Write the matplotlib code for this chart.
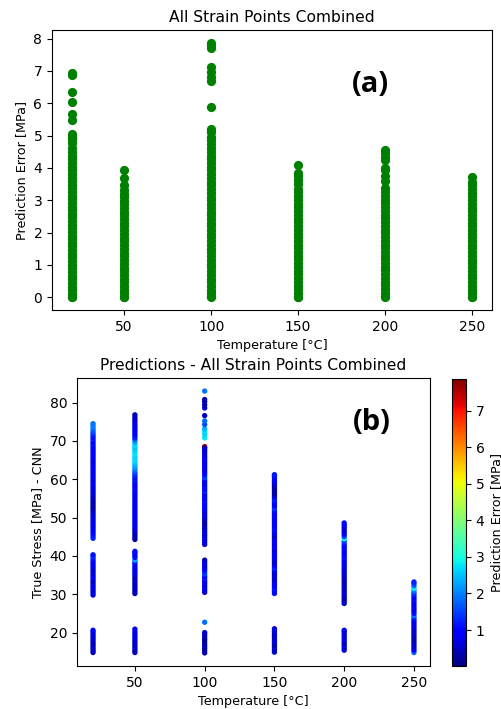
import matplotlib
matplotlib.use("Agg")
import matplotlib.pyplot as plt

# temperatures [°C]
temps = [20, 50, 100, 150, 200, 250]

# (a) prediction error per temperature [MPa]
err_20 = [0.0, 0.02, 0.11, 0.22, 0.33, 0.44, 0.55, 0.67, 0.78, 0.89, 1.0, 1.12, 1.23, 1.34,
          1.45, 1.57, 1.68, 1.79, 1.9, 2.02, 2.13, 2.24, 2.35, 2.47, 2.58, 2.69, 2.8, 2.92,
          3.03, 3.14, 3.25, 3.37, 3.48, 3.59, 3.7, 3.82, 3.93, 4.04, 4.15, 4.27, 4.38, 4.5,
          4.62, 4.78, 4.88, 4.97, 5.05, 5.47, 5.68, 6.03, 6.36, 6.88, 6.92]
err_50 = [0.0, 0.02, 0.12, 0.23, 0.35, 0.46, 0.58, 0.69, 0.81, 0.92, 1.04, 1.15, 1.27, 1.38,
          1.5, 1.61, 1.73, 1.84, 1.96, 2.07, 2.19, 2.3, 2.42, 2.53, 2.65, 2.76, 2.88, 2.99,
          3.1, 3.2, 3.32, 3.46, 3.7, 3.95]
err_100 = [0.0, 0.03, 0.12, 0.24, 0.35, 0.47, 0.58, 0.7, 0.81, 0.93, 1.04, 1.16, 1.27, 1.39,
           1.5, 1.62, 1.73, 1.85, 1.96, 2.08, 2.19, 2.31, 2.42, 2.54, 2.65, 2.77, 2.88, 3.0,
           3.11, 3.23, 3.34, 3.46, 3.57, 3.69, 3.8, 3.92, 4.03, 4.15, 4.26, 4.38, 4.5, 4.62,
           4.74, 4.85, 4.96, 5.12, 5.2, 5.88, 6.68, 6.82, 6.98, 7.12, 7.7, 7.8, 7.87]
err_150 = [0.0, 0.02, 0.13, 0.25, 0.36, 0.48, 0.59, 0.71, 0.82, 0.94, 1.05, 1.17, 1.28, 1.4,
           1.51, 1.63, 1.74, 1.86, 1.97, 2.09, 2.2, 2.32, 2.43, 2.55, 2.66, 2.78, 2.89, 3.01,
           3.12, 3.24, 3.36, 3.5, 3.62, 3.75, 3.85, 4.1]
err_200 = [0.0, 0.03, 0.14, 0.25, 0.37, 0.48, 0.6, 0.71, 0.83, 0.94, 1.06, 1.17, 1.29, 1.4,
           1.52, 1.63, 1.75, 1.86, 1.98, 2.09, 2.21, 2.32, 2.44, 2.55, 2.67, 2.78, 2.9, 3.01,
           3.12, 3.25, 3.38, 3.58, 3.75, 3.92, 4.0, 4.25, 4.35, 4.45, 4.55]
err_250 = [0.0, 0.02, 0.13, 0.24, 0.36, 0.47, 0.59, 0.7, 0.82, 0.93, 1.05, 1.16, 1.28, 1.39,
           1.51, 1.62, 1.74, 1.85, 1.97, 2.08, 2.2, 2.31, 2.43, 2.54, 2.66, 2.77, 2.89, 3.0,
           3.12, 3.23, 3.35, 3.46, 3.55, 3.73]

# (b) (predicted true stress [MPa], prediction error [MPa]) per temperature
pts_20 = [(14.8, 0.3), (15.3, 0.5), (15.9, 0.4), (16.5, 0.6), (17.1, 0.3), (17.7, 0.5),
          (18.3, 0.7), (18.9, 0.5), (19.5, 0.8), (20.1, 0.6), (20.6, 0.9),
          (29.8, 0.6), (30.4, 0.8), (31.0, 0.5), (31.6, 0.9), (32.2, 0.7), (32.8, 0.8),
          (33.4, 0.5), (34.0, 0.7), (34.6, 0.9), (35.2, 0.6), (35.8, 0.8), (36.4, 0.5),
          (37.0, 0.7), (37.6, 0.9), (38.2, 0.8), (38.8, 1.0), (39.4, 1.2), (40.0, 1.4),
          (40.3, 1.1),
          (44.6, 1.3), (45.2, 1.2), (45.8, 1.1), (46.4, 1.0), (47.0, 0.9), (47.6, 0.8),
          (48.2, 0.8), (48.8, 0.9), (49.4, 0.7), (50.0, 0.8), (50.6, 0.6), (51.2, 0.7),
          (51.8, 0.5), (52.4, 0.4), (53.0, 0.3), (53.6, 0.4), (54.2, 0.3), (54.8, 0.5),
          (55.4, 0.4), (56.0, 0.6), (56.6, 0.7), (57.2, 0.6), (57.8, 0.8), (58.4, 0.7),
          (59.0, 0.9), (59.6, 0.8), (60.2, 0.7), (60.8, 0.9), (61.4, 0.8), (62.0, 0.7),
          (62.6, 0.9), (63.2, 0.8), (63.8, 0.9), (64.4, 0.8), (65.0, 0.7), (65.6, 0.9),
          (66.2, 0.9), (66.8, 1.0), (67.4, 0.8), (68.0, 0.9), (68.6, 1.0), (69.2, 1.1),
          (69.8, 1.0), (70.4, 1.2), (71.0, 1.1), (71.6, 1.3), (72.2, 1.5), (72.8, 1.7),
          (73.4, 1.9), (74.0, 2.0), (74.5, 1.9)]
pts_50 = [(14.8, 0.5), (15.4, 0.3), (16.0, 0.6), (16.6, 0.4), (17.2, 0.7), (17.8, 0.5),
          (18.4, 0.8), (19.0, 0.6), (19.6, 0.9), (20.2, 0.7), (20.9, 1.0),
          (30.2, 0.3), (30.8, 0.5), (31.4, 0.4), (32.0, 0.6), (32.6, 0.3), (33.2, 0.5),
          (33.8, 0.7), (34.4, 0.4), (35.0, 0.6), (35.6, 0.8), (36.2, 0.7), (36.8, 0.9),
          (37.4, 1.0), (38.0, 0.9), (38.6, 1.3), (39.0, 2.3), (39.6, 1.1), (40.2, 0.9),
          (40.8, 1.0), (41.2, 1.1),
          (44.3, 0.3), (44.9, 0.4), (45.5, 0.3), (46.1, 0.5), (46.7, 0.6), (47.3, 0.8),
          (47.9, 0.9), (48.5, 0.7), (49.1, 0.8), (49.7, 0.9), (50.3, 0.9), (50.9, 0.8),
          (51.5, 0.9), (52.1, 1.0), (52.7, 0.8), (53.3, 0.9), (53.9, 0.8), (54.5, 1.0),
          (55.1, 0.9), (55.7, 0.8), (56.3, 1.0), (56.9, 0.9), (57.5, 1.1), (58.1, 1.0),
          (58.7, 0.9), (59.3, 1.1), (59.9, 1.2), (60.5, 1.1), (61.1, 1.3), (61.7, 1.5),
          (62.3, 1.8), (62.9, 2.1), (63.5, 2.3), (64.1, 2.5), (64.7, 2.6), (65.3, 2.7),
          (65.9, 2.6), (66.5, 2.8), (67.1, 2.7), (67.7, 2.6), (68.3, 2.5), (68.9, 2.7),
          (69.5, 2.4), (70.1, 2.0), (70.7, 1.3), (71.3, 1.1), (71.9, 0.9), (72.5, 1.0),
          (73.1, 0.8), (73.7, 0.9), (74.3, 0.7), (74.9, 0.8), (75.5, 0.6), (76.1, 0.5),
          (76.8, 0.4)]
pts_100 = [(14.7, 0.3), (15.3, 0.4), (15.9, 0.2), (16.5, 0.5), (17.1, 0.3), (17.7, 0.4),
           (18.3, 0.015), (18.9, 0.5), (19.5, 0.3), (20.0, 0.6), (22.7, 1.9),
           (30.5, 0.5), (31.1, 0.7), (31.7, 0.9), (32.3, 0.6), (32.9, 0.9), (33.5, 0.7),
           (34.1, 1.2), (34.7, 1.0), (35.3, 1.5), (35.9, 1.3), (36.5, 0.9), (37.1, 0.7),
           (37.7, 0.6), (38.3, 0.8), (38.9, 0.5),
           (68.5, 7.87),
           (43.0, 0.5), (43.6, 0.7), (44.2, 0.6), (44.8, 0.8), (45.4, 0.5), (46.0, 0.7),
           (46.6, 0.6), (47.2, 0.4), (47.8, 0.6), (48.4, 0.3), (49.0, 0.5), (49.6, 0.4),
           (50.2, 0.6), (50.8, 0.7), (51.4, 0.6), (52.0, 0.8), (52.6, 0.9), (53.2, 1.0),
           (53.8, 0.9), (54.4, 1.1), (55.0, 0.8), (55.6, 1.0), (56.2, 0.8), (56.8, 1.3),
           (57.4, 0.9), (58.0, 1.1), (58.6, 0.8), (59.2, 0.7), (59.8, 1.0), (60.4, 1.5),
           (61.0, 1.2), (61.6, 1.0), (62.2, 0.8), (62.8, 0.7), (63.4, 0.9), (64.0, 0.8),
           (64.6, 0.7), (65.2, 0.9), (65.8, 0.8), (66.4, 0.6), (67.0, 0.7), (67.6, 0.5),
           (68.1, 0.6),
           (70.8, 2.8), (71.8, 2.6), (72.5, 2.7), (73.2, 2.4), (74.3, 1.6), (75.2, 1.8),
           (76.6, 0.5), (78.6, 0.6), (79.4, 0.4), (80.2, 0.5), (80.8, 0.4), (83.0, 1.9)]
pts_150 = [(14.9, 0.6), (15.5, 0.4), (16.1, 0.7), (16.7, 0.3), (17.3, 0.5), (17.9, 0.8),
           (18.5, 0.4), (19.1, 0.6), (19.7, 0.5), (20.3, 0.7), (21.0, 0.6),
           (30.2, 1.1), (30.8, 1.0), (31.4, 1.2), (32.0, 0.9), (32.6, 1.0), (33.2, 0.8),
           (33.8, 0.6), (34.4, 0.5), (35.0, 0.7), (35.6, 0.5), (36.2, 0.9), (36.8, 1.3),
           (37.4, 1.0), (38.0, 0.7), (38.6, 0.5), (39.2, 0.8), (39.8, 1.0), (40.4, 0.7),
           (41.0, 0.9), (41.6, 0.6), (42.2, 1.0), (42.8, 0.9), (43.4, 0.7), (44.0, 1.0),
           (44.6, 0.8), (45.2, 0.5), (45.8, 0.8), (46.4, 1.0), (47.0, 1.1), (47.6, 0.9),
           (48.2, 1.0), (48.8, 0.8), (49.4, 1.0), (50.0, 0.9), (50.6, 1.0), (51.2, 0.9),
           (51.8, 1.1), (52.4, 1.4), (53.0, 1.0), (53.6, 0.9), (54.2, 1.1), (54.8, 1.2),
           (55.4, 0.7), (56.0, 0.4), (56.6, 0.3), (57.2, 0.4), (57.8, 0.3), (58.4, 0.5),
           (59.0, 0.6), (59.6, 0.9), (60.2, 1.0), (60.8, 1.1), (61.2, 1.2)]
pts_200 = [(15.4, 0.7), (16.0, 0.5), (16.6, 0.8), (17.2, 0.4), (17.8, 0.6), (18.4, 0.9),
           (19.0, 0.5), (19.6, 0.7), (20.2, 0.6), (20.6, 0.8),
           (27.6, 0.4), (28.2, 0.6), (28.8, 0.3), (29.4, 0.5), (30.0, 0.4), (30.6, 0.7),
           (31.2, 0.5), (31.8, 0.4), (32.4, 0.6), (33.0, 0.3), (33.6, 0.5), (34.2, 0.4),
           (34.8, 0.6), (35.4, 0.5), (36.0, 0.7), (36.6, 0.6), (37.2, 0.8), (37.8, 0.6),
           (38.4, 0.9), (39.0, 0.8), (39.6, 1.1), (40.2, 0.9), (40.8, 1.0), (41.4, 0.8),
           (42.0, 1.1), (42.6, 0.9), (43.2, 1.2), (43.8, 1.5), (44.5, 3.0), (45.0, 1.6),
           (45.6, 1.1), (46.2, 0.8), (46.8, 0.6), (47.4, 0.7), (48.0, 0.9), (48.6, 1.0)]
pts_250 = [(14.8, 1.8), (15.4, 1.0), (16.0, 0.7), (16.6, 0.5), (17.2, 0.6), (17.8, 0.4),
           (18.4, 0.3), (19.0, 0.5), (19.6, 0.4), (20.2, 0.6), (20.8, 0.5), (21.4, 0.7),
           (22.0, 0.8), (22.6, 0.7), (23.2, 1.0), (23.8, 1.2), (24.4, 1.9), (25.0, 1.1),
           (25.6, 0.9), (26.2, 0.8), (26.8, 1.0), (27.4, 0.7), (28.0, 0.9), (28.6, 1.1),
           (29.2, 1.0), (29.8, 1.2), (30.4, 1.5), (31.0, 2.0), (31.6, 2.9), (32.2, 1.8),
           (32.8, 1.4), (33.2, 1.3)]

err_lists = [err_20, err_50, err_100, err_150, err_200, err_250]
pts_lists = [pts_20, pts_50, pts_100, pts_150, pts_200, pts_250]

W, H = 502, 709
fig = plt.figure(figsize=(W / 100, H / 100), dpi=100)

def box(l, t, r, b):
    # pixel box (left, top, right, bottom) -> figure fraction
    return [l / W, 1 - b / H, (r - l) / W, (b - t) / H]

tick_fs = 10
lab_fs = 9.2
title_fs = 11.2
tag_font = ["Open Sans", "DejaVu Sans"]

# (a)
ax1 = fig.add_axes(box(52, 30, 492, 310))
for t, e in zip(temps, err_lists):
    ax1.scatter([t] * len(e), e, color="green", s=44, linewidths=0)
ax1.set_title("All Strain Points Combined", fontsize=title_fs)
ax1.set_xlabel("Temperature [°C]", fontsize=lab_fs)
ax1.set_ylabel("Prediction Error [MPa]", fontsize=lab_fs)
ax1.set_xticks([50, 100, 150, 200, 250])
ax1.set_yticks(range(0, 9))
ax1.tick_params(labelsize=tick_fs)
fig.text(370 / W, 1 - 84 / H, "(a)", fontsize=21, fontweight="bold",
         family=tag_font, ha="center", va="center")

# (b)
ax2 = fig.add_axes(box(77, 378, 430, 666))
all_t, all_s, all_c = [], [], []
for t, pts in zip(temps, pts_lists):
    for s, c in pts:
        all_t.append(t)
        all_s.append(s)
        all_c.append(c)
sc = ax2.scatter(all_t, all_s, c=all_c, cmap="jet", s=15, linewidths=0)
ax2.set_title("Predictions - All Strain Points Combined", fontsize=title_fs)
ax2.set_xlabel("Temperature [°C]", fontsize=lab_fs)
ax2.set_ylabel("True Stress [MPa] - CNN", fontsize=lab_fs)
ax2.set_xticks([50, 100, 150, 200, 250])
ax2.tick_params(labelsize=tick_fs)
fig.text(372 / W, 1 - 423 / H, "(b)", fontsize=21, fontweight="bold",
         family=tag_font, ha="center", va="center")

cax = fig.add_axes(box(452, 379, 466, 666))
cb = fig.colorbar(sc, cax=cax)
cb.set_label("Prediction Error [MPa]", fontsize=lab_fs)
cb.ax.tick_params(labelsize=tick_fs)

fig.savefig("out.png", dpi=100)
